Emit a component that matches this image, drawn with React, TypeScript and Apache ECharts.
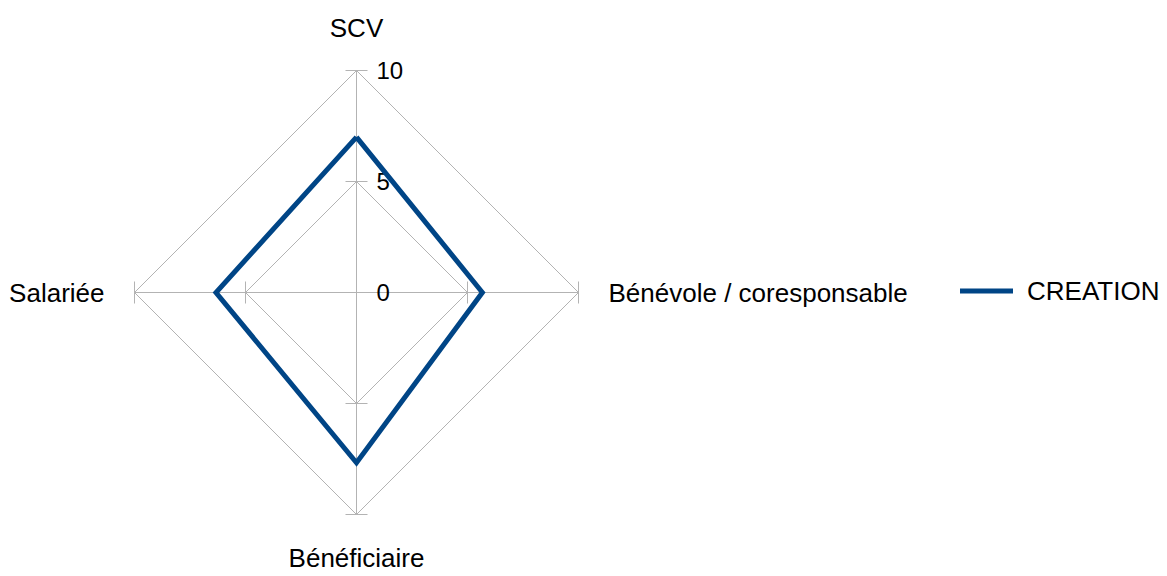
import React, { useEffect, useRef } from 'react';
import * as echarts from 'echarts';

const indicatorNames = ['SCV', 'Salariée', 'Bénéficiaire', 'Bénévole / coresponsable'];
const seriesName = 'CREATION';
const creationValues = [7, 6.33, 7.67, 5.67];
const axisMin = 0;
const axisMax = 10;
const axisSplits = 2;

const GREY = '#b3b3b3';
const BLUE = '#004586';
const FONT = 'Liberation Sans, Arial, sans-serif';

export default function App() {
  const ref = useRef<HTMLDivElement>(null);
  useEffect(() => {
    if (!ref.current) return;
    const chart = echarts.init(ref.current, null, { renderer: 'svg' });
    const common = {
      center: [356.5, 292.5],
      radius: 222,
      startAngle: 90,
      splitNumber: axisSplits,
      shape: 'polygon',
      nameGap: 30,
      splitArea: { show: false },
    };
    chart.setOption({
      animation: false,
      backgroundColor: '#fff',
      legend: {
        data: [seriesName],
        left: 960,
        top: 278,
        padding: 0,
        icon: 'rect',
        itemWidth: 53,
        itemHeight: 5,
        textStyle: { fontSize: 26, color: '#000', fontFamily: FONT, padding: [0, 0, 0, 9] },
      },
      radar: [
        {
          ...common,
          indicator: indicatorNames.map((n, i) => ({
            name: n,
            min: axisMin,
            max: axisMax,
            axisLabel: { show: i === 0 },
          })),
          axisName: { color: '#000', fontSize: 26, fontFamily: FONT },
          axisLine: { show: true, lineStyle: { color: GREY, width: 1 } },
          splitLine: { show: true, lineStyle: { color: GREY, width: 1 } },
          axisTick: { show: true, length: 11, lineStyle: { color: GREY, width: 1 } },
          axisLabel: {
            show: false,
            fontSize: 24,
            color: '#000',
            fontFamily: FONT,
            margin: -20,
            align: 'left',
            verticalAlign: 'middle',
          },
        },
        {
          ...common,
          indicator: indicatorNames.map((n) => ({ name: n, min: axisMin, max: axisMax })),
          axisName: { show: false },
          axisLine: { show: false },
          splitLine: { show: false },
          axisTick: { show: true, length: -11, lineStyle: { color: GREY, width: 1 } },
          axisLabel: { show: false },
        },
      ],
      series: [
        {
          type: 'radar',
          radarIndex: 0,
          symbol: 'none',
          data: [
            {
              name: seriesName,
              value: creationValues,
              lineStyle: { color: BLUE, width: 5, join: 'miter' },
              itemStyle: { color: BLUE },
            },
          ],
        },
      ],
    });
    return () => chart.dispose();
  }, []);
  return (
    <div
      ref={ref}
      style={{ position: 'fixed', left: 0, top: 0, width: 1167, height: 576 }}
    />
  );
}
